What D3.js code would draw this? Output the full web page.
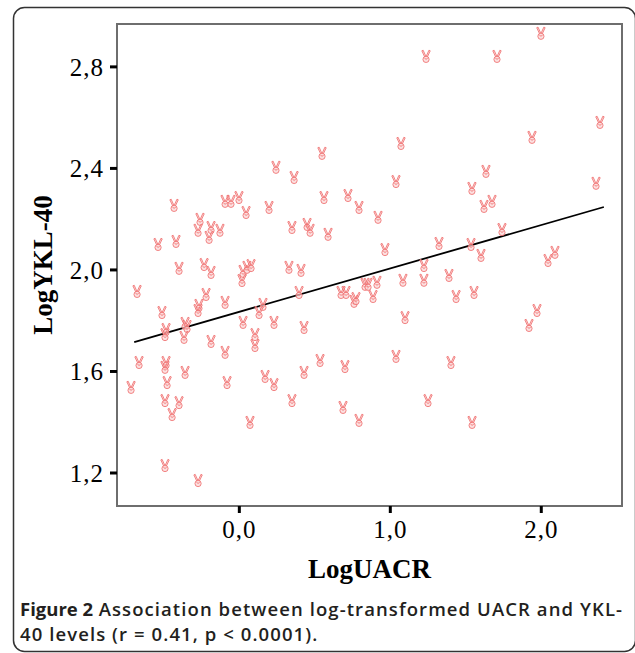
<!DOCTYPE html>
<html>
<head>
<meta charset="utf-8">
<script src="https://cdn.jsdelivr.net/npm/d3@7"></script>
<style>
  html, body { margin: 0; padding: 0; background: #fff; }
  svg { display: block; }
</style>
</head>
<body>
<svg id="chart" width="635" height="653"></svg>
<script>
// ---- data ----
const logUACR = [0.551,0.246,0.366,-0.429,-0.091,-0.052,0.001,0.048,0.200,0.564,0.723,0.796,-0.257,-0.270,-0.184,-0.125,-0.197,-0.535,-0.416,0.352,0.452,0.472,0.591,2.001,1.240,1.710,2.392,1.942,1.074,1.637,1.041,1.544,2.366,1.624,1.677,0.922,1.743,0.968,1.326,1.538,1.604,2.094,2.048,1.226,-0.396,-0.230,-0.184,0.028,0.054,0.081,0.021,0.332,0.412,-0.674,-0.217,-0.091,-0.264,-0.270,-0.509,-0.482,-0.489,-0.356,-0.343,-0.363,-0.184,0.028,0.107,0.107,0.160,0.134,0.233,0.399,0.432,-0.091,0.677,0.710,0.763,0.776,0.836,0.856,-0.661,-0.482,-0.489,-0.356,0.538,0.703,0.432,0.174,0.233,-0.078,-0.475,-0.714,-0.489,-0.396,-0.442,0.352,0.690,0.796,0.074,-0.489,-0.270,0.915,1.087,1.226,1.392,0.889,1.439,1.558,1.101,1.975,1.922,1.041,1.405,1.253,1.545];
const logYKL40 = [2.455,2.400,2.360,2.250,2.266,2.266,2.281,2.222,2.242,2.281,2.289,2.242,2.195,2.152,2.163,2.152,2.124,2.096,2.108,2.163,2.175,2.152,2.136,2.928,2.837,2.837,2.577,2.518,2.494,2.384,2.344,2.317,2.337,2.246,2.266,2.203,2.155,2.076,2.100,2.096,2.053,2.065,2.033,2.013,2.002,2.017,1.986,1.990,2.006,2.013,1.954,2.006,1.994,1.911,1.899,1.868,1.856,1.836,1.828,1.761,1.741,1.785,1.773,1.730,1.714,1.789,1.741,1.698,1.860,1.828,1.789,1.907,1.769,1.671,1.907,1.907,1.872,1.883,1.939,1.939,1.631,1.631,1.612,1.592,1.639,1.615,1.592,1.576,1.544,1.552,1.552,1.533,1.481,1.473,1.426,1.481,1.454,1.403,1.395,1.225,1.166,1.947,1.955,1.955,1.974,1.891,1.891,1.907,1.808,1.836,1.777,1.655,1.631,1.481,1.395];
const fitX = [-0.693, 2.418];
const fitY = [1.714, 2.246];
const xTicks = [0.0, 1.0, 2.0];
const yTicks = [1.2, 1.6, 2.0, 2.4, 2.8];
const xTitle = "LogUACR";
const yTitle = "LogYKL-40";
const captionBold = "Figure 2";
const captionLine1 = "Association between log-transformed UACR and YKL-";
const captionLine2 = "40 levels (r = 0.41, p < 0.0001).";

// ---- layout ----
const svg = d3.select("#chart");
const plot = {left: 117, right: 622, top: 24, bottom: 506};

const x = d3.scaleLinear().domain([-0.807, 2.538]).range([plot.left, plot.right]);
const y = d3.scaleLinear().domain([1.068, 2.967]).range([plot.bottom, plot.top]);
const fmt = v => d3.format(".1f")(v).replace(".", ",");

// outer rounded frame
svg.append("rect")
  .attr("x", 13.5).attr("y", 7.5).attr("width", 622).attr("height", 644)
  .attr("rx", 11).attr("ry", 11)
  .attr("fill", "none").attr("stroke", "#333").attr("stroke-width", 1.5);

// plot frame
svg.append("rect")
  .attr("x", plot.left).attr("y", plot.top)
  .attr("width", plot.right - plot.left).attr("height", plot.bottom - plot.top)
  .attr("fill", "#fff").attr("stroke", "#6e6e6e").attr("stroke-width", 2);

// axes
const xAxis = d3.axisBottom(x).tickValues(xTicks).tickFormat(fmt).tickSize(7).tickPadding(7);
const yAxis = d3.axisLeft(y).tickValues(yTicks).tickFormat(fmt).tickSize(7).tickPadding(6);

const gx = svg.append("g").attr("transform", `translate(0,${plot.bottom})`).call(xAxis);
const gy = svg.append("g").attr("transform", `translate(${plot.left},0)`).call(yAxis);
[gx, gy].forEach(g => {
  g.select(".domain").remove();
  g.selectAll(".tick line").attr("stroke", "#000").attr("stroke-width", 3);
  g.selectAll(".tick text")
    .attr("fill", "#000")
    .style("font-family", "'Liberation Serif', 'Times New Roman', serif")
    .style("font-size", "25px")
    .style("letter-spacing", "1px");
});
gx.selectAll(".tick text").attr("dy", "0.71em");
gy.selectAll(".tick text").attr("dy", "0.35em");

// regression line
svg.append("line")
  .attr("x1", x(fitX[0])).attr("y1", y(fitY[0]))
  .attr("x2", x(fitX[1])).attr("y2", y(fitY[1]))
  .attr("stroke", "#000").attr("stroke-width", 1.8);

// point marker: small "victory hand" glyph (as in the SPSS original)
const hand = [
  "M-4.2,-6.2 L-2.9,-6.8 L-0.4,-1.2 L-1.6,-0.6 Z",
  "M4.2,-6.2 L2.9,-6.8 L0.4,-1.2 L1.6,-0.6 Z",
  "M-3.1,2.4 A3.1,3.1 0 1 0 3.1,2.4 A3.1,3.1 0 1 0 -3.1,2.4 Z",
  "M-1.6,1.2 Q0,3.2 1.6,1.4"
].join(" ");

const pts = logUACR.map((v, i) => ({x: v, y: logYKL40[i]}));
svg.append("g").selectAll("path").data(pts).join("path")
  .attr("transform", d => `translate(${x(d.x)},${y(d.y)})`)
  .attr("d", hand)
  .attr("fill", "#fbd3d3").attr("fill-opacity", 0.7)
  .attr("stroke", "#ef6b6b").attr("stroke-width", 0.9).attr("stroke-opacity", 0.9);

// axis titles
svg.append("text")
  .attr("x", (plot.left + plot.right) / 2).attr("y", 578)
  .attr("text-anchor", "middle")
  .style("font-family", "'Liberation Serif', 'Times New Roman', serif")
  .style("font-weight", "bold").style("font-size", "27px")
  .text(xTitle);

svg.append("text")
  .attr("transform", `translate(52,${(plot.top + plot.bottom) / 2}) rotate(-90)`)
  .attr("text-anchor", "middle")
  .style("font-family", "'Liberation Serif', 'Times New Roman', serif")
  .style("font-weight", "bold").style("font-size", "27px")
  .text(yTitle);

// caption (bold lead-in + regular text), two lines
const capFont = "'Open Sans', 'Noto Sans', sans-serif";
const capSize = 18.5;
const capG = svg.append("g")
  .style("font-family", capFont).style("font-size", capSize + "px")
  .attr("fill", "#231f20");
const lead = capG.append("text").attr("x", 20).attr("y", 616)
  .style("font-weight", "bold").text(captionBold);
const leadW = lead.node().getComputedTextLength();
const l1 = capG.append("text").attr("y", 616)
  .style("font-weight", "600").text(captionLine1);
const space = capSize * 0.3;
const l1x = 20 + leadW + space;
l1.attr("x", l1x);
// stretch letter spacing slightly so line 1 ends where it does in the figure
const l1W = l1.node().getComputedTextLength();
const ls = Math.max(0, (622 - l1x - l1W) / (captionLine1.length - 1));
l1.style("letter-spacing", ls.toFixed(3) + "px");
capG.append("text").attr("x", 20).attr("y", 641)
  .style("font-weight", "600").style("letter-spacing", ls.toFixed(3) + "px")
  .text(captionLine2);
</script>
</body>
</html>
